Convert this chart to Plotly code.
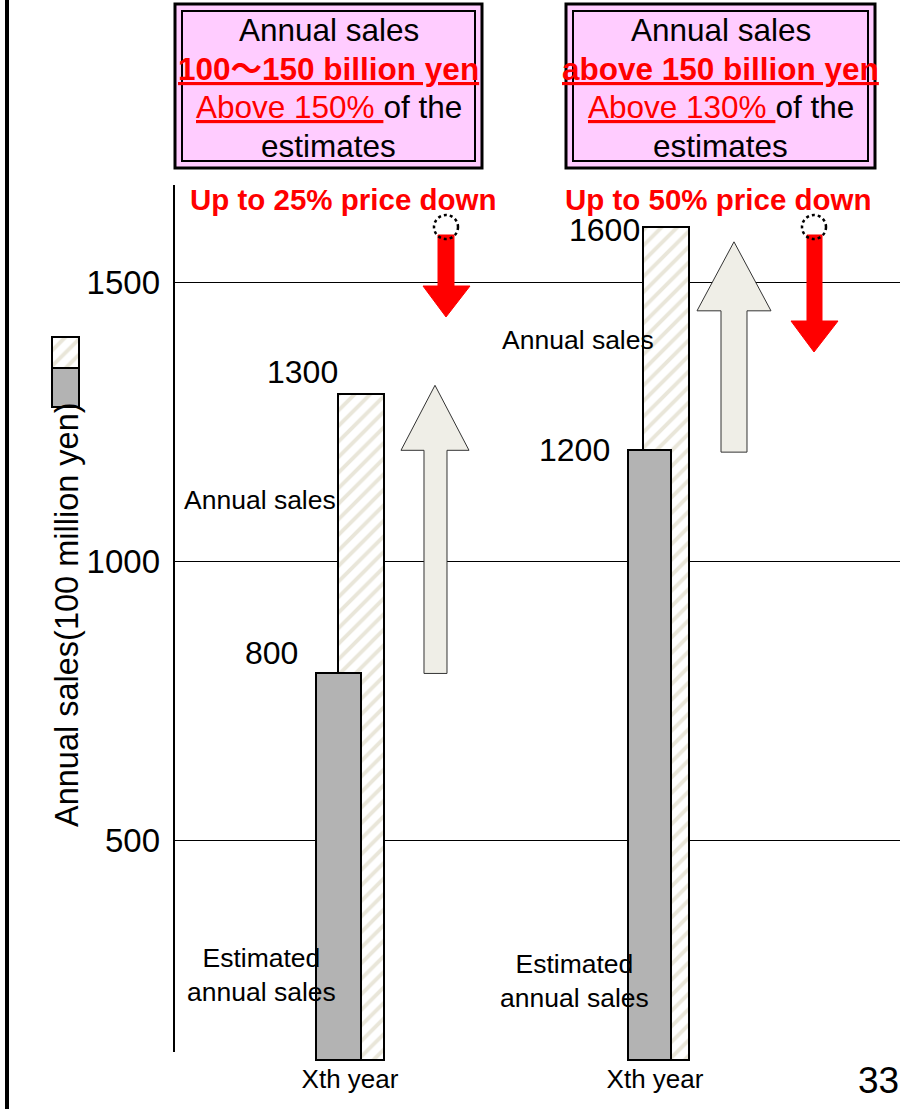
import plotly.graph_objects as go

W, H = 916, 1109

# ---------------- data ----------------
groups = ["Xth year", "Xth year"]
estimated_sales = [800, 1200]
actual_sales = [1300, 1600]
y_ticks = [500, 1000, 1500]
box_ranges = ["100～150 billion yen", "above 150 billion yen"]
box_thresholds = ["Above 150% ", "Above 130% "]
price_down = ["Up to 25% price down", "Up to 50% price down"]
series_label = "Annual sales"
estimate_label = "Estimated<br>annual sales"
y_title = "Annual sales(100 million yen)"
page_no = "33"

# ---------------- geometry / style ----------------
FONT = "Arial, Liberation Sans, Noto Sans CJK JP, sans-serif"
PX_L, PX_R, PX_T, PX_B = 175, 900, 185, 1061
X_RANGE = [-0.5738, 1.8033]
Y_RANGE = [105.8, 1674.9]
xpos = [0, 1]
grey_off = [-0.1115, -0.0885]
grey_w = [0.1475, 0.141]
hatch_off = [-0.0393, -0.0393]
hatch_w = [0.1508, 0.1508]
RED = "#ff0000"
PINK = "#ffccff"


def px(x):
    return x / W


def py(y):
    return (H - y) / H


def ypx(v):
    return PX_B - (v - Y_RANGE[0]) / (Y_RANGE[1] - Y_RANGE[0]) * (PX_B - PX_T)


def path(points):
    s = "M " + " L ".join(f"{px(x):.5f},{py(y):.5f}" for x, y in points) + " Z"
    return s


bar_base = Y_RANGE[0] + 1.5
hatch_pattern = dict(shape="/", fgcolor="#e9e6d9", bgcolor="white", size=11, solidity=0.35)

fig = go.Figure()
fig.add_trace(go.Bar(
    x=xpos, y=[v - bar_base for v in actual_sales], base=[bar_base] * 2,
    offset=hatch_off, width=hatch_w,
    marker=dict(color="white", pattern=hatch_pattern, line=dict(color="black", width=2)),
    showlegend=False, hoverinfo="skip"))
fig.add_trace(go.Bar(
    x=xpos, y=[v - bar_base for v in estimated_sales], base=[bar_base] * 2,
    offset=grey_off, width=grey_w,
    marker=dict(color="#b3b3b3", line=dict(color="black", width=2)),
    showlegend=False, hoverinfo="skip"))

# legend swatch (small stacked key at left)
fig.add_trace(go.Bar(x=[0], y=[72], width=[1], xaxis="x2", yaxis="y2",
                     marker=dict(color="white", pattern=hatch_pattern, line=dict(color="black", width=2)),
                     showlegend=False, hoverinfo="skip"))
fig.add_trace(go.Bar(x=[0], y=[40], width=[1], xaxis="x2", yaxis="y2",
                     marker=dict(color="#b3b3b3", line=dict(color="black", width=2)),
                     showlegend=False, hoverinfo="skip"))

shapes = []
# left page border
shapes.append(dict(type="line", xref="paper", yref="paper", x0=px(7), x1=px(7), y0=0, y1=1,
                   line=dict(color="black", width=4)))
# y axis line
shapes.append(dict(type="line", xref="paper", yref="paper", x0=px(174), x1=px(174), y0=py(185), y1=py(1052),
                   line=dict(color="black", width=2)))

# boxes
for (x0, x1) in [(175, 482), (566, 875)]:
    shapes.append(dict(type="rect", xref="paper", yref="paper", x0=px(x0), x1=px(x1), y0=py(4), y1=py(168),
                       fillcolor=PINK, line=dict(color="black", width=3)))
    shapes.append(dict(type="rect", xref="paper", yref="paper", x0=px(x0 + 7), x1=px(x1 - 7), y0=py(11), y1=py(161),
                       fillcolor="rgba(0,0,0,0)", line=dict(color="black", width=2)))

# up arrows (from estimated to actual)
up_specs = [
    dict(shaft=(424, 447), head=(401, 469), tip_x=435, bottom=ypx(estimated_sales[0]), tip=ypx(actual_sales[0]) - 9, headlen=65),
    dict(shaft=(721, 747), head=(697, 771), tip_x=734, bottom=ypx(estimated_sales[1]) + 2, tip=ypx(actual_sales[1]) + 15, headlen=69),
]
for s in up_specs:
    hb = s["tip"] + s["headlen"]
    pts = [(s["shaft"][0], s["bottom"]), (s["shaft"][0], hb), (s["head"][0], hb), (s["tip_x"], s["tip"]),
           (s["head"][1], hb), (s["shaft"][1], hb), (s["shaft"][1], s["bottom"])]
    shapes.append(dict(type="path", xref="paper", yref="paper", path=path(pts),
                       fillcolor="#efeee7", line=dict(color="#333333", width=1)))

# red down arrows with dotted circles
down_specs = [
    dict(cx=446, shaft=(438, 454), head=(423, 470), top=235, hb=286, tip=317),
    dict(cx=814, shaft=(807, 822), head=(791, 838), top=235, hb=321, tip=352),
]
for s in down_specs:
    pts = [(s["shaft"][0], s["top"]), (s["shaft"][0], s["hb"]), (s["head"][0], s["hb"]), (s["cx"], s["tip"]),
           (s["head"][1], s["hb"]), (s["shaft"][1], s["hb"]), (s["shaft"][1], s["top"])]
    shapes.append(dict(type="path", xref="paper", yref="paper", path=path(pts),
                       fillcolor=RED, line=dict(color=RED, width=1)))
    shapes.append(dict(type="circle", xref="paper", yref="paper",
                       x0=px(s["cx"] - 12), x1=px(s["cx"] + 12), y0=py(227 + 12), y1=py(227 - 12),
                       line=dict(color="black", width=2.5, dash="dot"), fillcolor="rgba(0,0,0,0)"))

ann = []


def text(x, y, t, size, color="black", **kw):
    ann.append(dict(x=px(x), y=py(y), xref="paper", yref="paper", text=t, showarrow=False,
                    xanchor=kw.pop("xanchor", "center"), yanchor=kw.pop("yanchor", "middle"),
                    font=dict(size=size, color=color, family=FONT), **kw))


# box contents
for i, cx in enumerate([328.5, 720.5]):
    text(cx, 30, "Annual sales", 31.5)
    text(cx, 69, f"<b><u>{box_ranges[i]}</u></b>", 31.5, RED)
    text(cx, 107, f"<span style='color:{RED}'><u>{box_thresholds[i]}</u></span>of the", 31.5)
    text(cx, 146, "estimates", 31.5)

# price down captions
text(343.5, 200, f"<b>{price_down[0]}</b>", 29.5, RED)
text(718.5, 200, f"<b>{price_down[1]}</b>", 29.5, RED)

# y title
text(67, 615, y_title, 32.5, textangle=-90)

# in-plot labels
text(260, 500, series_label, 26.5)
text(578, 340, series_label, 26.5)
text(261, 975, estimate_label, 26.5)
text(574, 981, estimate_label, 26.5)
text(878, 1080, page_no, 37)

# value labels anchored to the bars
value_labels = [
    (0, actual_sales[0], hatch_off[0], 2, 22),
    (0, estimated_sales[0], grey_off[0], -16, 20),
    (1, estimated_sales[1], grey_off[1], -16, 0),
    (1, actual_sales[1], hatch_off[1], -1, -3),
]
for gi, v, off, xs, ys in value_labels:
    ann.append(dict(x=xpos[gi] + off, y=v, xref="x", yref="y", text=str(v), showarrow=False,
                    xanchor="right", yanchor="middle", xshift=xs, yshift=ys,
                    font=dict(size=32, color="black", family=FONT)))

fig.update_layout(
    width=W, height=H, template="none",
    margin=dict(l=0, r=0, t=0, b=0),
    paper_bgcolor="white", plot_bgcolor="rgba(0,0,0,0)",
    barmode="overlay", bargap=0,
    font=dict(family=FONT, color="black"),
    showlegend=False,
    xaxis=dict(domain=[px(PX_L), px(PX_R)], range=X_RANGE, tickvals=xpos, ticktext=groups,
               showgrid=False, zeroline=False, showline=False, ticks="",
               tickfont=dict(size=26, family=FONT), anchor="y", fixedrange=True),
    yaxis=dict(domain=[py(PX_B), py(PX_T)], range=Y_RANGE, tickvals=y_ticks,
               showgrid=True, gridcolor="black", gridwidth=1.3, zeroline=False, showline=False,
               ticks="", ticklabelstandoff=14, tickfont=dict(size=33, family=FONT), anchor="x"),
    xaxis2=dict(domain=[px(51), px(80)], range=[-0.53, 0.53], visible=False, anchor="y2"),
    yaxis2=dict(domain=[py(408), py(336)], range=[-1, 73], visible=False, anchor="x2"),
    shapes=shapes, annotations=ann,
)

fig.write_html("out.html", config={"displayModeBar": False},
               post_script="document.body.style.margin='0';document.body.style.overflow='hidden';")
